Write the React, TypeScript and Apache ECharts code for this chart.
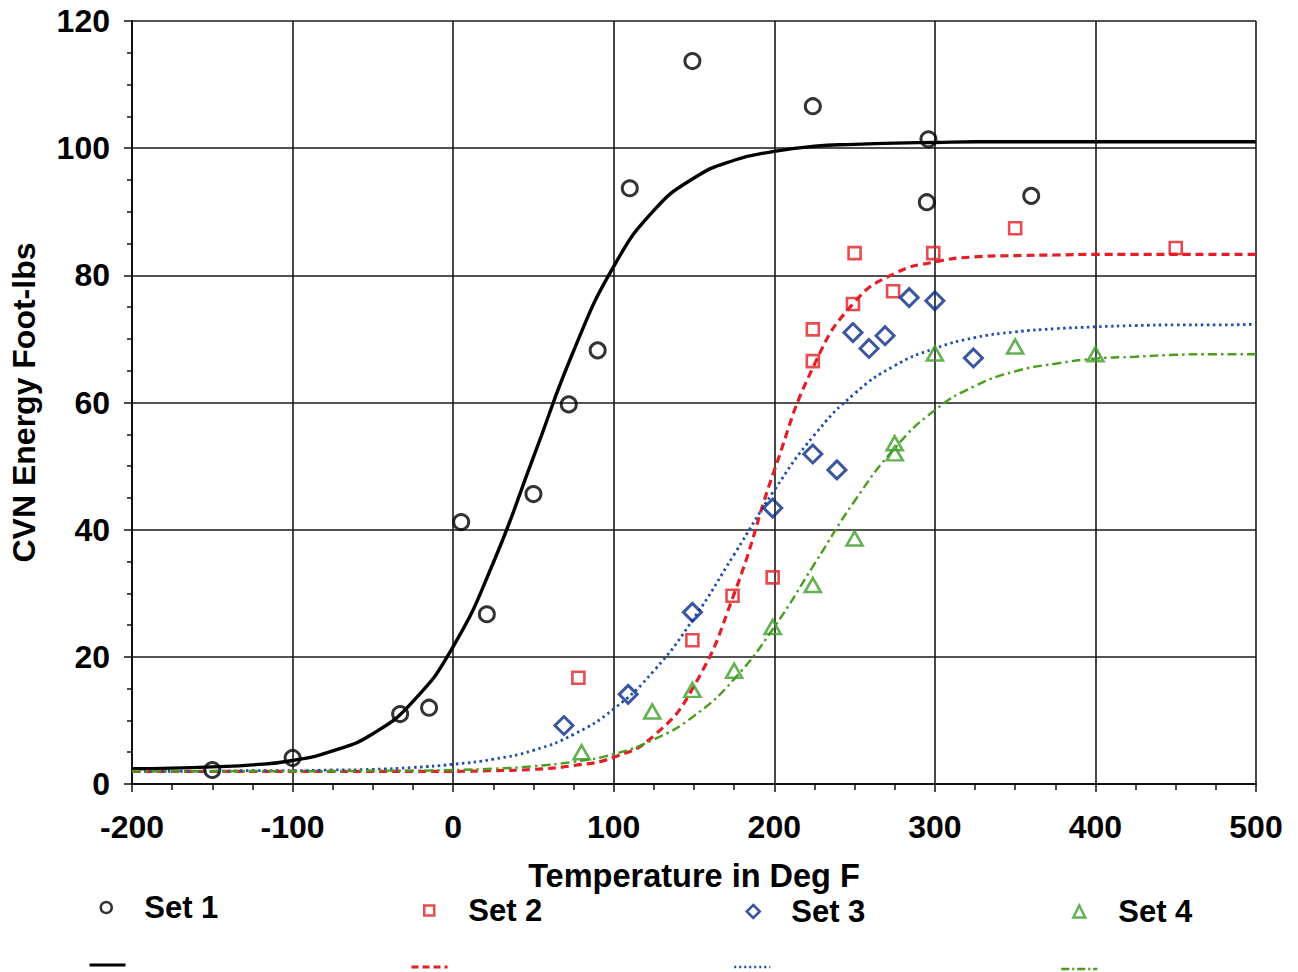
import React, { useEffect, useRef } from "react";
import * as echarts from "echarts";

// Temperatures (Deg F) at which the fitted transition curves are listed
const fitTemps = [
  -200, -175, -150, -125, -100, -75, -50, -25, 0, 25, 50, 75, 100, 125, 150,
  175, 200, 225, 250, 275, 300, 325, 350, 375, 400, 425, 450, 475, 500,
];

// Fitted CVN energy curves (Foot-lbs)
const fit1 = [
  2.4, 2.5, 2.7, 3.0, 3.7, 5.2, 7.9, 13.0, 21.6, 34.8, 51.4, 68.1, 81.4, 90.2,
  95.3, 98.1, 99.5, 100.3, 100.6, 100.8, 100.9, 101.0, 101.0, 101.0, 101.0,
  101.0, 101.0, 101.0, 101.0,
];
const fit2 = [
  2.0, 2.0, 2.0, 2.0, 2.0, 2.0, 2.0, 2.0, 2.0, 2.1, 2.3, 2.9, 4.2, 7.6, 15.4,
  29.9, 49.3, 66.0, 75.8, 80.3, 82.1, 82.9, 83.1, 83.2, 83.3, 83.3, 83.3, 83.3,
  83.3,
];
const fit3 = [
  2.0, 2.0, 2.0, 2.1, 2.1, 2.2, 2.3, 2.6, 3.1, 3.9, 5.3, 7.8, 11.8, 17.8, 26.1,
  36.1, 46.2, 54.9, 61.4, 65.8, 68.5, 70.2, 71.1, 71.6, 71.9, 72.1, 72.2, 72.2,
  72.3,
];
const fit4 = [
  2.0, 2.0, 2.0, 2.0, 2.0, 2.0, 2.1, 2.1, 2.2, 2.4, 2.8, 3.5, 4.7, 7.0, 10.7,
  16.5, 24.7, 34.6, 44.5, 52.8, 58.8, 62.6, 64.9, 66.1, 66.9, 67.2, 67.5, 67.6,
  67.6,
];

// Measured test points: [temperature, energy]
const set1 = [
  [-150, 2.2], [-100, 4.1], [-33, 11.0], [-15, 12.0], [5, 41.2], [21, 26.7],
  [50, 45.6], [72, 59.7], [90, 68.2], [110, 93.7], [149, 113.7], [224, 106.6],
  [296, 101.4], [295, 91.5], [360, 92.5],
];
const set2 = [
  [78, 16.7], [149, 22.6], [174, 29.6], [199, 32.5], [224, 71.5], [224, 66.5],
  [249, 75.5], [250, 83.5], [274, 77.5], [299, 83.5], [350, 87.4], [450, 84.3],
];
const set3 = [
  [69, 9.2], [109, 14.1], [149, 27.0], [199, 43.4], [224, 51.9], [239, 49.4],
  [249, 71.0], [259, 68.5], [269, 70.5], [284, 76.5], [300, 76.0], [324, 67.0],
];
const set4 = [
  [80, 5.0], [124, 11.4], [149, 14.8], [175, 17.8], [199, 24.7], [224, 31.3],
  [250, 38.6], [275, 53.6], [275, 52.0], [300, 67.7], [350, 68.8], [400, 67.6],
];

const setNames = ["Set 1", "Set 2", "Set 3", "Set 4"];
const fitNames = ["Set 1 Fit", "Set 2 Fit", "Set 3 Fit", "Set 4 Fit"];

const FONT = "'Liberation Sans', Arial, Helvetica, sans-serif";
const BLACK = "#000000";
const RED = "#e41e26";
const NAVY = "#0a2c8a";
const BLUE = "#1f4eaa";
const GREEN = "#3c9e28";
const GREEN_LINE = "#4c9c1e";

function pairs(xs: number[], ys: number[]) {
  return xs.map((x, i) => [x, ys[i]]);
}

export default function App() {
  const ref = useRef<HTMLDivElement>(null);

  useEffect(() => {
    document.body.style.margin = "0";
    const chart = echarts.init(ref.current!, null, { renderer: "svg" });

    const textStyle = {
      fontFamily: FONT,
      fontWeight: "bold" as const,
      fontSize: 31,
      color: "#000",
    };

    // One legend entry per set: marker, spacer, then the set's name
    const markerLegend = (
      name: string,
      left: number,
      top: number,
      size: number,
      gap: number,
      border: string
    ) => ({
      data: [name],
      left,
      top,
      orient: "horizontal",
      padding: 0,
      itemGap: 0,
      itemWidth: size,
      itemHeight: size,
      selectedMode: false,
      formatter: (n: string) => `{g|}{t|${n}}`,
      textStyle: {
        ...textStyle,
        rich: {
          g: { width: gap, height: 10 },
          t: { ...textStyle },
        },
      },
      itemStyle: { color: "rgba(0,0,0,0)", borderColor: border, borderWidth: 2.5 },
    });

    const lineLegend = (
      name: string,
      left: number,
      top: number,
      color: string,
      type: any,
      width: number
    ) => ({
      data: [name],
      left,
      top,
      padding: 0,
      itemGap: 0,
      itemWidth: 36,
      itemHeight: 4,
      selectedMode: false,
      formatter: () => " ",
      textStyle: { fontSize: 4, fontFamily: FONT },
      lineStyle: { color, type, width },
      itemStyle: { opacity: 0 },
    });

    const scatter = (
      name: string,
      data: number[][],
      symbol: string,
      size: number | number[],
      color: string,
      bw: number
    ) => ({
      name,
      type: "scatter",
      data,
      symbol,
      symbolSize: size,
      z: 4,
      itemStyle: { color: "rgba(0,0,0,0)", borderColor: color, borderWidth: bw },
    });

    const fitLine = (
      name: string,
      ys: number[],
      color: string,
      type: any,
      width: number
    ) => ({
      name,
      type: "line",
      data: pairs(fitTemps, ys),
      smooth: 0.5,
      symbol: "none",
      showSymbol: false,
      z: 3,
      lineStyle: { color, type, width, cap: "butt" },
      itemStyle: { color },
    });

    chart.setOption({
      animation: false,
      backgroundColor: "#ffffff",
      grid: { left: 132, right: 42, top: 21, bottom: 188, containLabel: false },
      xAxis: {
        type: "value",
        min: -200,
        max: 500,
        interval: 100,
        name: "Temperature in Deg F",
        nameLocation: "middle",
        nameGap: 75,
        nameTextStyle: { ...textStyle, fontSize: 32.5 },
        axisLine: { show: true, onZero: false, lineStyle: { color: "#111", width: 2 } },
        axisTick: { show: true, length: 8, lineStyle: { color: "#111", width: 1.5 } },
        minorTick: { show: true, splitNumber: 4, length: 6, lineStyle: { color: "#111", width: 1.5 } },
        axisLabel: { ...textStyle, fontSize: 32, margin: 27 },
        splitLine: { show: true, lineStyle: { color: "#1a1a1a", width: 1.6 } },
      },
      yAxis: {
        type: "value",
        min: 0,
        max: 120,
        interval: 20,
        name: "CVN Energy Foot-lbs",
        nameLocation: "middle",
        nameGap: 92,
        nameTextStyle: { ...textStyle, fontSize: 32 },
        axisLine: { show: true, onZero: false, lineStyle: { color: "#111", width: 2 } },
        axisTick: { show: true, length: 8, lineStyle: { color: "#111", width: 1.5 } },
        minorTick: { show: true, splitNumber: 4, length: 5, lineStyle: { color: "#111", width: 1.5 } },
        axisLabel: { ...textStyle, fontSize: 32, margin: 22 },
        splitLine: { show: true, lineStyle: { color: "#1a1a1a", width: 1.6 } },
      },
      legend: [
        markerLegend(setNames[0], 99.5, 892, 11, 27.5, BLACK),
        markerLegend(setNames[1], 423, 895, 10, 29, RED),
        markerLegend(setNames[2], 745.5, 896, 13, 26.5, NAVY),
        markerLegend(setNames[3], 1072, 896, 12, 28, GREEN),
        lineLegend(fitNames[0], 88, 963, BLACK, "solid", 3),
        lineLegend(fitNames[1], 410, 965, RED, [7, 4], 3),
        lineLegend(fitNames[2], 733, 965, BLUE, [2, 3], 2.5),
        lineLegend(fitNames[3], 1060, 967, GREEN_LINE, [8, 3, 2, 3], 2.5),
      ],
      series: [
        fitLine(fitNames[0], fit1, BLACK, "solid", 3.4),
        fitLine(fitNames[1], fit2, RED, [8, 5], 3.2),
        fitLine(fitNames[2], fit3, BLUE, [2.5, 3.5], 2.8),
        fitLine(fitNames[3], fit4, GREEN_LINE, [9, 4, 2.5, 4], 2.4),
        scatter(setNames[0], set1, "circle", 15, BLACK, 3),
        scatter(setNames[1], set2, "rect", 12, RED, 2.6),
        scatter(setNames[2], set3, "diamond", 18, NAVY, 3),
        scatter(setNames[3], set4, "triangle", [16, 14], GREEN, 2.6),
      ],
    });

    return () => chart.dispose();
  }, []);

  return <div ref={ref} style={{ width: 1298, height: 972 }} />;
}
